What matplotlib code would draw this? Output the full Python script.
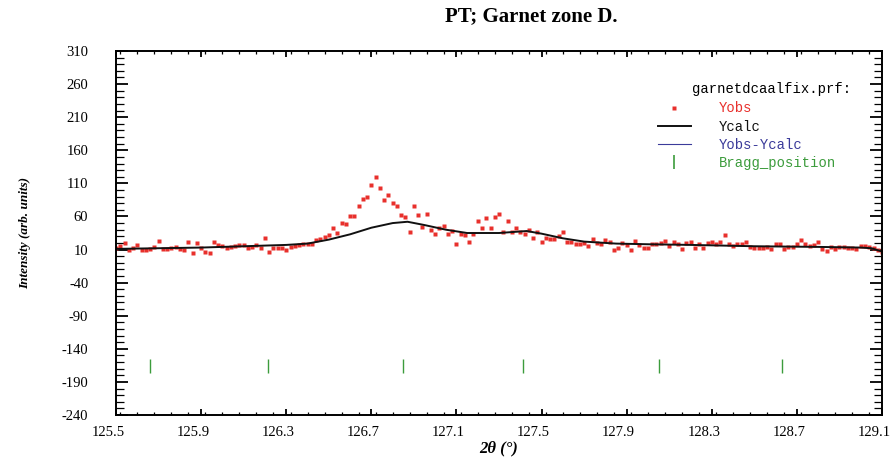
import matplotlib
matplotlib.use("Agg")
import matplotlib.pyplot as plt
from matplotlib.ticker import MultipleLocator, FixedLocator
from matplotlib.transforms import ScaledTranslation
import numpy as np

# observed profile, 125.50 -> 129.10 in 0.02 steps
obs_start, obs_end = 125.5, 129.1
y_obs = [
    12, 15, 20, 9, 12, 17, 9, 10, 11, 14,
    23, 11, 11, 12, 14, 11, 10, 22, 5, 20,
    12, 7, 5, 22, 17,
    16, 13, 14, 16, 17, 17, 12, 14, 17, 12,
    27, 6, 13, 13, 13, 10, 14, 15, 17, 18,
    18, 19, 24, 26, 29, 32, 42, 35, 50, 48,
    60, 61, 76, 86, 90, 107, 119, 103, 85, 92,
    81, 76, 62, 59, 36, 76, 62, 44, 64, 40,
    33, 42, 45, 33, 38, 18, 33, 32, 22, 34,
    53, 43, 57, 43, 59, 64, 37, 53, 37, 43,
    37, 33, 40, 27, 37, 22, 28, 26, 26, 30,
    37, 21, 21, 19, 18, 20, 16, 26, 20, 19,
    25, 22, 10, 13, 20, 17, 10, 23, 17, 13,
    13, 19, 19, 20, 23, 15, 22, 19, 11, 20,
    22, 13, 19, 12, 20, 22, 19, 21, 32, 18,
    16, 18, 18, 22, 14, 12, 13, 12, 14, 11,
    19, 18, 11, 14, 14, 18, 24, 19, 16, 17,
    22, 11, 8, 14, 11, 14, 14, 12, 12, 11,
    16, 16, 14, 12, 9, 7,
]

# calculated profile
calc_x = [125.5, 125.7, 125.9, 126.1, 126.3, 126.4, 126.5, 126.6, 126.7, 126.8,
          126.87, 126.95, 127.05, 127.15, 127.3, 127.43, 127.5, 127.6, 127.7,
          127.85, 128.0, 128.2, 128.5, 128.8, 129.0, 129.05, 129.1]
calc_y = [11, 12, 13, 15, 17, 19, 25, 33, 43, 50,
          52, 47, 40, 35, 35, 38, 34, 27, 22,
          19, 18, 17, 15, 14, 13, 12, 7]

bragg_pos = [125.66, 126.214, 126.849, 127.413, 128.052, 128.63]
bragg_lo, bragg_hi = -176, -155

x_ticks = [125.5, 125.9, 126.3, 126.7, 127.1, 127.5, 127.9, 128.3, 128.7, 129.1]
y_ticks = [310, 260, 210, 160, 110, 60, 10, -40, -90, -140, -190, -240]

serif = ["Liberation Serif", "DejaVu Serif"]
mono = ["Liberation Mono", "DejaVu Sans Mono"]

fig = plt.figure(figsize=(8.94, 4.63), dpi=100)
ax = fig.add_axes([0.1298, 0.1037, 0.8568, 0.7861])

x_obs = np.linspace(obs_start, obs_end, len(y_obs))
ax.plot(x_obs, y_obs, "s", color="#e8302c", ms=3, mec="none", label="Yobs")
ax.plot(calc_x, calc_y, "-", color="#111111", lw=1.4, label="Ycalc")
ax.plot([], [], "-", color="#3b3b9a", lw=0.8, label="Yobs-Ycalc")
ax.vlines(bragg_pos, bragg_lo, bragg_hi, color="#3c9c3c", lw=1.0)
ax.plot([], [], "|", color="#3c9c3c", ms=10, mew=1.2, label="Bragg_position")

ax.set_xlim(obs_start, obs_end)
ax.set_ylim(-240, 310)
ax.xaxis.set_major_locator(FixedLocator(x_ticks))
ax.xaxis.set_minor_locator(MultipleLocator(0.08))
ax.yaxis.set_major_locator(FixedLocator(y_ticks))
ax.yaxis.set_minor_locator(MultipleLocator(10))
ax.set_xticklabels([f"{v:.1f}" for v in x_ticks], family=serif, fontsize=10.5)
ax.set_yticklabels([str(v) for v in y_ticks], family=serif, fontsize=10.5)

ax.tick_params(axis="y", which="major", direction="in", length=8.5, width=1.3,
               left=True, right=True, pad=20)
ax.tick_params(axis="y", which="minor", direction="in", length=6, width=0.9,
               left=True, right=True)
ax.tick_params(axis="x", which="major", direction="in", length=4, width=1.3,
               top=True, bottom=True, pad=8)
ax.tick_params(axis="x", which="minor", direction="in", length=2.5, width=0.9,
               top=True, bottom=True)
for s in ax.spines.values():
    s.set_linewidth(1.4)

# the x labels sit a little left of their ticks in the original
shift = ScaledTranslation(-0.08, 0, fig.dpi_scale_trans)
for lbl in ax.get_xticklabels():
    lbl.set_transform(lbl.get_transform() + shift)

ax.set_xlabel("2θ (°)", family=serif, fontsize=12, fontweight="bold",
              style="italic", labelpad=1)
ax.set_ylabel("Intensity (arb. units)", family=serif, fontsize=9.5,
              fontweight="bold", style="italic", labelpad=22)
fig.text(0.594, 0.965, "PT; Garnet zone D.", family=serif, fontsize=15,
         fontweight="bold", ha="center", va="center")

# legend block
ax.text(0.752, 0.8956, "garnetdcaalfix.prf:", transform=ax.transAxes,
        family=mono, fontsize=10, ha="left", va="center")
leg = ax.legend(loc="upper left", bbox_to_anchor=(0.6906, 0.896), frameon=False,
                prop={"family": mono, "size": 10},
                handlelength=2.4, handletextpad=2.0, labelspacing=0.3,
                labelcolor=["#e8302c", "#111111", "#3b3b9a", "#3c9c3c"])

fig.savefig("out.png", dpi=100)
